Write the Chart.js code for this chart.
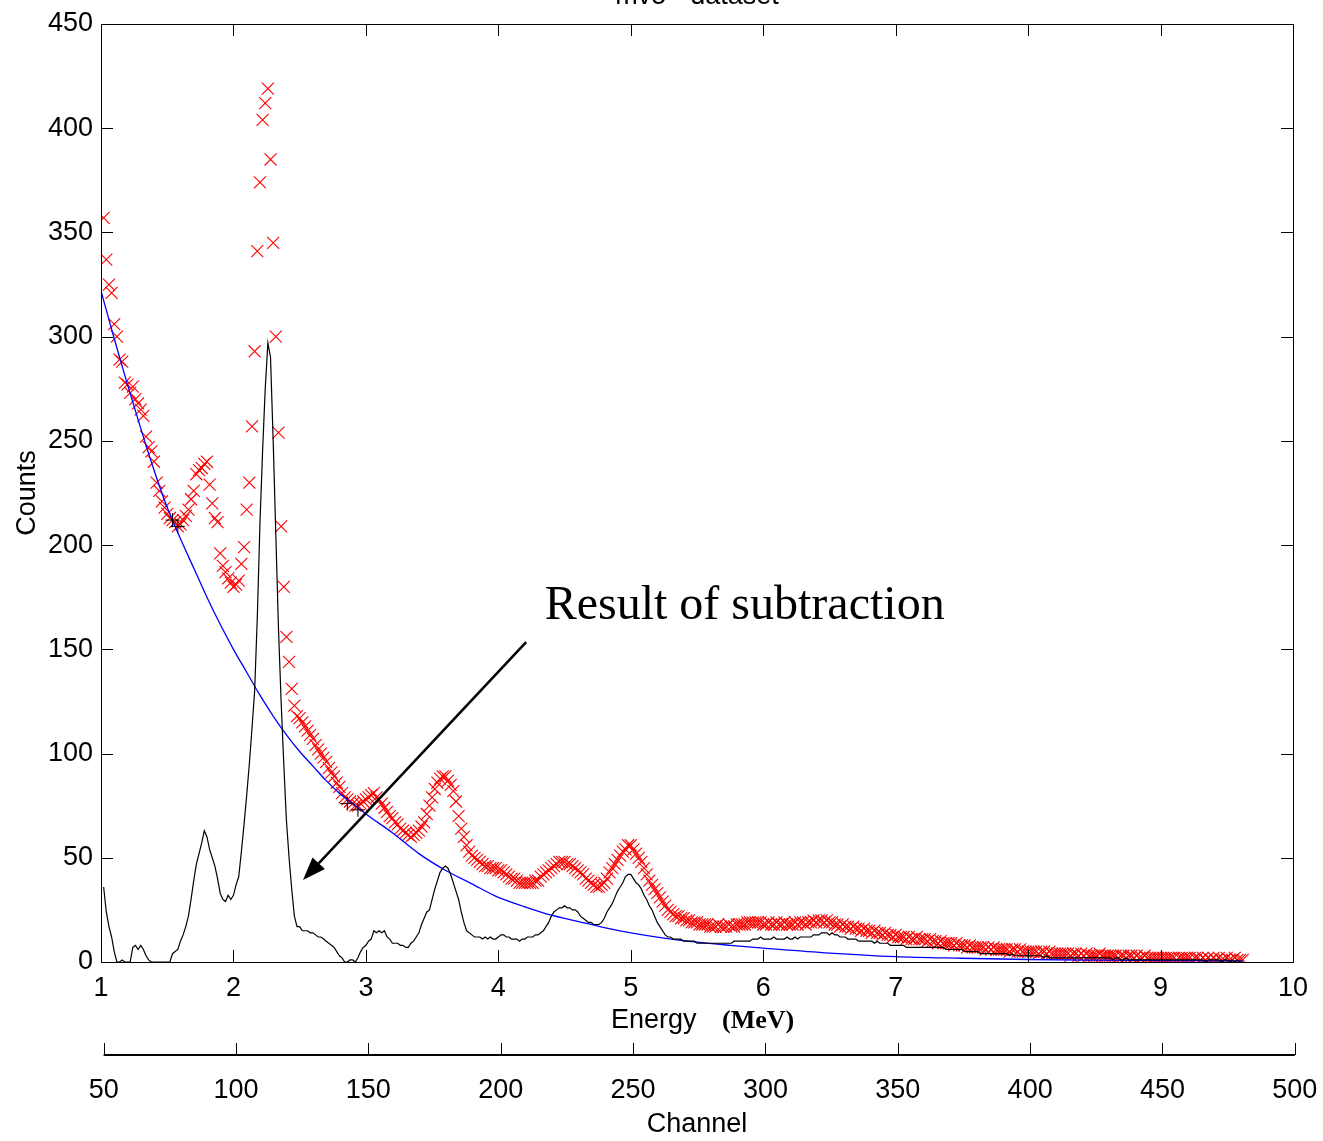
<!DOCTYPE html>
<html>
<head>
<meta charset="utf-8">
<script src="https://cdn.jsdelivr.net/npm/chart.js@4.4.1/dist/chart.umd.min.js"></script>
<style>
html,body{margin:0;padding:0;background:#fff;overflow:hidden}
#wrap{width:1323px;height:1141px;position:relative;background:#fff}
</style>
</head>
<body>
<div id="wrap"><canvas id="c" width="1323" height="1141"></canvas></div>
<script>
// ---------------- data ----------------
const firstChannel = 51;           // channel of the first value in the per-channel arrays
const channelsPerMeV = 50;         // calibration: channel 50 = 1 MeV
const rawCounts = [
357,337,325,321,306,300,289,288,278,277,
273,276,270,268,265,262,252,247,245,240,
230,226,221,218,215,213,212,211,209,210,
212,214,217,222,226,234,236,237,239,240,
229,220,213,211,196,190,187,184,182,180,
181,183,191,199,217,230,257,293,341,374,
404,412,419,385,345,300,254,209,180,156,
144,131,123,118,117,115,113,111,109,107,
104,102,100,98,96,93,91,89,86,84,
81,79,78,77,76,75,75,76,77,78,
79,80,81,79,78,76,74,72,70,69,
67,66,64,63,62,61,60,61,62,63,
65,67,71,75,79,83,86,88,89,89,
87,85,82,77,70,64,60,56,53,51,
50,49,48,47,46,46,45,45,45,44,
44,43,42,41,40,40,39,38,38,38,
38,38,38,39,39,41,42,43,44,45,
46,47,48,48,48,47,47,46,45,44,
43,42,40,39,38,37,36,36,37,38,
40,43,45,47,49,51,53,54,56,56,
54,52,50,48,45,42,39,37,35,33,
31,29,27,25,24,23,22,22,21,21,
20,20,19,19,19,18,18,18,18,17,
17,17,18,17,17,17,18,17,17,18,
18,18,18,19,19,19,19,19,19,18,
18,19,18,18,19,18,18,19,18,18,
18,19,18,19,19,18,19,19,20,19,
20,20,19,20,19,19,18,18,17,18,
17,17,16,17,16,16,15,16,15,15,
14,15,14,14,13,14,13,13,12,13,
12,12,12,11,12,11,11,12,11,11,
11,10,11,10,10,9,10,9,9,9,
9,8,9,8,8,8,7,8,7,7,
7,7,7,6,7,6,7,6,6,6,
6,6,5,6,6,5,6,5,5,5,
5,5,5,4,5,5,4,5,4,4,
4,4,4,4,4,3,4,4,3,4,
3,4,3,3,3,3,4,3,3,3,
3,3,3,2,3,3,2,3,3,2,
3,2,2,3,2,2,2,2,2,2,
2,2,2,2,2,1,2,2,2,2,
2,1,2,2,1,2,1,2,1,2,
1,2,1,1,2,1,1,2,1,1,1
];
const netCounts = [
36,24,17,12,5,0,0,1,0,0,
0,7,8,6,8,6,3,1,0,0,
0,0,0,0,0,0,4,5,6,10,
13,17,22,30,39,47,52,57,63,60,
54,50,46,40,33,30,29,32,30,32,
37,41,53,66,80,95,112,130,165,210,
245,275,297,290,250,205,160,125,95,68,
50,35,22,17,17,15,15,15,14,14,
13,12,12,11,10,9,8,7,5,3,
2,0,0,1,1,0,2,5,7,8,
10,11,15,14,15,14,15,12,11,9,
9,9,8,8,7,7,9,10,12,14,
18,21,24,25,30,35,39,43,45,46,
45,42,38,34,30,24,19,15,14,13,
12,12,12,11,12,11,12,11,11,12,
13,13,12,12,11,11,11,10,11,11,
12,12,12,13,13,14,15,17,19,22,
24,25,26,26,27,26,26,25,25,24,
22,21,20,19,19,18,18,18,19,21,
24,26,28,31,34,36,38,41,42,42,
40,38,37,35,32,30,27,25,22,19,
17,15,13,12,12,11,11,11,11,10,
10,10,10,10,9,9,9,9,9,9,
9,9,9,9,9,9,9,9,10,10,
10,10,10,10,10,11,11,11,12,11,
11,11,11,12,11,11,11,11,12,11,
11,12,11,12,12,12,12,12,13,13,
13,14,14,14,13,14,13,13,12,12,
12,11,11,11,11,10,10,10,10,10,
10,9,10,9,9,9,9,8,8,8,
8,8,8,7,7,7,7,7,7,7,
7,7,7,7,7,7,7,7,6,6,
6,6,6,6,6,5,5,5,5,5,
5,4,4,4,4,4,4,4,4,4,
4,4,3,4,3,3,3,3,3,3,
3,3,3,3,3,2,3,2,2,2,
2,2,2,2,2,2,2,2,2,2,
2,2,2,2,2,2,2,2,2,2,
2,1,2,2,1,1,2,1,1,1,
1,1,1,1,1,1,1,1,1,1,
1,1,1,1,1,1,1,1,1,1,
1,1,1,1,1,1,0,1,1,1,
1,1,0,1,1,0,1,0,1,0,0
];
const bgEnergy = [1.0,1.1,1.2,1.3,1.4,1.5,1.6,1.7,1.8,1.9,2.0,2.1,2.2,2.3,2.4,2.5,2.6,2.7,2.8,2.9,3.0,3.2,3.4,3.6,3.8,4.0,4.2,4.4,4.6,4.8,5.0,5.25,5.5,5.75,6.0,6.5,7.0,7.5,8.0,8.5,9.0,9.62];
const bgCounts = [322,299,277,256,236,218,203,189,175,162,150,139,128,118,109,101,94,87,81,76,71,62,52,44,37.5,31,26.5,22.5,19.5,16.5,14,11.5,9.5,8,6.7,4.3,2.6,1.8,1.2,0.9,0.7,0.5];
const fitEnergy = [1.54, 1.58, 2.86, 2.94];
const fitCounts = [212, 209, 76, 73];
const energyRange = [1, 10];
const countRange = [0, 450];
const channelTicks = [50,100,150,200,250,300,350,400,450,500];
const channelRange = [49.0, 499.3];
const chartTitle = "mv5 - dataset";
const arrowFrom = {x: 4.21, y: 153.5};
const arrowTo = {x: 2.525, y: 39.3};
const noteText = "Result of subtraction";
const notePos = {x: 4.35, y: 164.6};

// ---------------- build ----------------
const energyOf = ch => 1 + (ch - 50) / channelsPerMeV;
const rawPts = rawCounts.map((v, i) => ({x: energyOf(firstChannel + i), y: v}));
const netPts = netCounts.map((v, i) => ({x: energyOf(firstChannel + i), y: v}));
const bgPts = bgEnergy.map((e, i) => ({x: e, y: bgCounts[i]}));
const fitPts = fitEnergy.map((e, i) => ({x: e, y: fitCounts[i]}));

const SANS = "'Liberation Sans', Arial, sans-serif";
const SERIF = "'Liberation Serif', 'Times New Roman', serif";
const fnt = {family: SANS, size: 27};

const decor = {
  id: 'decor',
  afterDatasetsDraw(chart) {
    const {ctx, chartArea: a, scales} = chart;
    const xs = scales.x, ys = scales.y, x2 = scales.x2;
    ctx.save();
    ctx.strokeStyle = '#000';
    ctx.lineWidth = 1;
    // frame
    ctx.strokeRect(Math.round(a.left) + 0.5, Math.round(a.top) + 0.5,
                   Math.round(a.right - a.left), Math.round(a.bottom - a.top));
    const TL = 12;
    ctx.beginPath();
    xs.ticks.forEach(t => {
      if (t.value <= energyRange[0] || t.value >= energyRange[1]) return;
      const px = Math.round(xs.getPixelForValue(t.value)) + 0.5;
      ctx.moveTo(px, a.bottom); ctx.lineTo(px, a.bottom - TL);
      ctx.moveTo(px, a.top); ctx.lineTo(px, a.top + TL);
    });
    ys.ticks.forEach(t => {
      if (t.value <= countRange[0] || t.value >= countRange[1]) return;
      const py = Math.round(ys.getPixelForValue(t.value)) + 0.5;
      ctx.moveTo(a.left, py); ctx.lineTo(a.left + TL, py);
      ctx.moveTo(a.right, py); ctx.lineTo(a.right - TL, py);
    });
    ctx.stroke();
    // channel axis
    const ly = x2.top + 13;
    ctx.lineWidth = 2;
    ctx.beginPath();
    ctx.moveTo(x2.getPixelForValue(channelTicks[0]), ly);
    ctx.lineTo(x2.getPixelForValue(channelTicks[channelTicks.length - 1]), ly);
    ctx.stroke();
    ctx.lineWidth = 1;
    ctx.beginPath();
    channelTicks.forEach(v => {
      const px = Math.round(x2.getPixelForValue(v)) + 0.5;
      ctx.moveTo(px, ly); ctx.lineTo(px, ly - TL);
    });
    ctx.stroke();
    // energy axis title (mixed fonts)
    ctx.fillStyle = '#000';
    ctx.textBaseline = 'middle';
    ctx.textAlign = 'left';
    ctx.font = "27px " + SANS;
    ctx.fillText("Energy", 611, 1021);
    ctx.font = "bold 26px " + SERIF;
    ctx.fillText("(MeV)", 722, 1021);
    // clipped title at top
    ctx.font = "27px " + SANS;
    ctx.textAlign = 'center';
    ctx.textBaseline = 'alphabetic';
    ctx.fillText(chartTitle, (a.left + a.right) / 2, 4);
    // annotation arrow
    const fx = xs.getPixelForValue(arrowFrom.x), fy = ys.getPixelForValue(arrowFrom.y);
    const tx = xs.getPixelForValue(arrowTo.x), ty = ys.getPixelForValue(arrowTo.y);
    const ang = Math.atan2(ty - fy, tx - fx);
    const HL = 23, HW = 8.5;
    const bx = tx - HL * Math.cos(ang), by = ty - HL * Math.sin(ang);
    ctx.lineWidth = 2.5;
    ctx.beginPath(); ctx.moveTo(fx, fy); ctx.lineTo(bx, by); ctx.stroke();
    ctx.beginPath();
    ctx.moveTo(tx, ty);
    ctx.lineTo(bx + HW * Math.sin(ang), by - HW * Math.cos(ang));
    ctx.lineTo(bx - HW * Math.sin(ang), by + HW * Math.cos(ang));
    ctx.closePath(); ctx.fill();
    // annotation text
    ctx.font = "48px " + SERIF;
    ctx.textAlign = 'left';
    ctx.textBaseline = 'alphabetic';
    ctx.fillText(noteText, xs.getPixelForValue(notePos.x), ys.getPixelForValue(notePos.y));
    ctx.restore();
  }
};

new Chart(document.getElementById('c'), {
  type: 'scatter',
  data: {
    datasets: [
      {label: 'raw', data: rawPts, showLine: false, pointStyle: 'crossRot', pointRadius: 8.5,
       borderColor: '#ff0000', backgroundColor: 'rgba(0,0,0,0)', pointBorderWidth: 1.1, order: 4},
      {label: 'background', data: bgPts, showLine: true, borderColor: '#0000ff', borderWidth: 1.3,
       pointRadius: 0, cubicInterpolationMode: 'monotone', order: 3},
      {label: 'net', data: netPts, showLine: true, borderColor: '#000000', borderWidth: 1.2,
       pointRadius: 0, tension: 0, order: 2},
      {label: 'fit', data: fitPts, showLine: false, pointStyle: 'cross', pointRadius: 7,
       borderColor: '#000000', pointBorderWidth: 1, order: 1}
    ]
  },
  options: {
    responsive: false,
    animation: false,
    devicePixelRatio: 1,
    layout: {padding: {left: 0, right: 30, top: 24, bottom: 0}},
    plugins: {legend: {display: false}, tooltip: {enabled: false}, title: {display: false}},
    scales: {
      x: {
        type: 'linear', position: 'bottom', weight: 0,
        min: energyRange[0], max: energyRange[1],
        ticks: {stepSize: 1, padding: 10, color: '#000', font: fnt, maxRotation: 0},
        grid: {display: false, drawTicks: false},
        border: {display: false},
        afterFit(s) { s.height = 80; s.paddingLeft = 0; s.paddingRight = 0; }
      },
      x2: {
        type: 'linear', position: 'bottom', weight: 1,
        min: channelRange[0], max: channelRange[1],
        afterBuildTicks(s) { s.ticks = channelTicks.map(v => ({value: v})); },
        ticks: {padding: 32, color: '#000', font: fnt, maxRotation: 0, autoSkip: false},
        grid: {display: false, drawTicks: false},
        border: {display: false},
        title: {display: true, text: 'Channel', color: '#000', font: fnt, padding: {top: 0, bottom: 0}},
        afterFit(s) { s.height = 99; s.paddingLeft = 0; s.paddingRight = 0; }
      },
      y: {
        type: 'linear', position: 'left',
        min: countRange[0], max: countRange[1],
        ticks: {stepSize: 50, padding: 8, color: '#000', font: fnt},
        grid: {display: false, drawTicks: false},
        border: {display: false},
        title: {display: true, text: 'Counts', color: '#000', font: fnt, padding: {top: 11, bottom: 0}},
        afterFit(s) { s.width = 101; s.paddingTop = 0; s.paddingBottom = 0; }
      }
    }
  },
  plugins: [decor]
});
</script>
</body>
</html>
